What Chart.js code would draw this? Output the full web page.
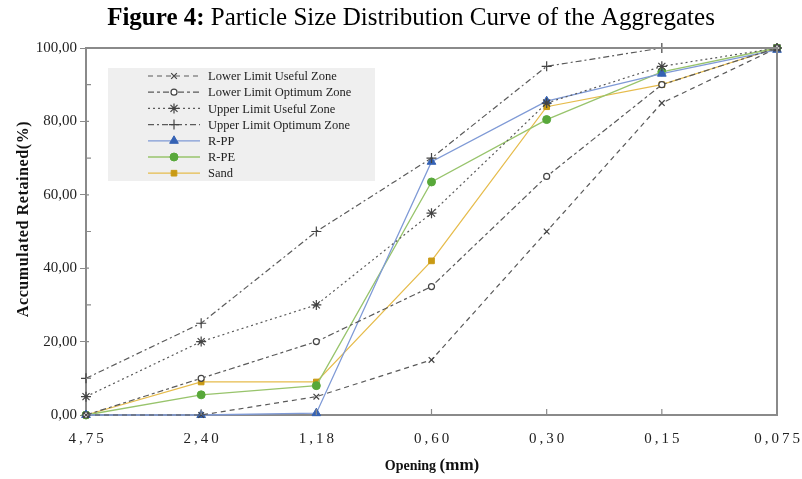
<!DOCTYPE html>
<html>
<head>
<meta charset="utf-8">
<script src="https://cdn.jsdelivr.net/npm/chart.js@4.4.1/dist/chart.umd.min.js"></script>
<style>
  html, body { margin: 0; padding: 0; background: #fff; }
  #wrap { width: 802px; height: 479px; position: relative; }
</style>
</head>
<body>
<div id="wrap"><canvas id="chart" width="802" height="479"></canvas></div>
<script>
// sieve openings (mm), shown as labels
const openings = ['4,75', '2,40', '1,18', '0,60', '0,30', '0,15', '0,075'];

// limit curves
const lowerUseful   = [0, 0, 5, 15, 50, 85, 100];
const lowerOptimum  = [0, 10, 20, 35, 65, 90, 100];
const upperUseful   = [5, 20, 30, 55, 85, 95, 100];
const upperOptimum  = [10, 25, 50, 70, 95, 100, 100];

// measured aggregates
const rPP  = [0, 0, 0.5, 69, 85.5, 93, 99.5];
const rPE  = [0, 5.5, 8, 63.5, 80.5, 93.5, 100];
const sand = [0, 9, 9, 42, 84, 90, 100];

const SERIF = '"Liberation Serif", "Times New Roman", serif';
const AXIS = '#8a8a8a';

function limitSet(label, data, dash, pointStyle, radius, bg) {
  return {
    label, data,
    borderColor: '#5a5a5a', borderWidth: 1.2, borderDash: dash,
    pointStyle, pointRadius: radius, pointBorderWidth: 1.2,
    pointBorderColor: '#444', pointBackgroundColor: bg || '#444',
    tension: 0, clip: false
  };
}
function sampleSet(label, data, line, mark, pointStyle, radius) {
  return {
    label, data,
    borderColor: line, borderWidth: 1.3,
    pointStyle, pointRadius: radius, pointBorderWidth: 1,
    pointBorderColor: mark, pointBackgroundColor: mark,
    tension: 0, clip: false
  };
}

const datasets = [
  limitSet('Lower Limit Useful Zone', lowerUseful, [5, 4], 'crossRot', 4),
  limitSet('Lower Limit Optimum Zone', lowerOptimum, [6, 3, 3, 3], 'circle', 3, '#fff'),
  limitSet('Upper Limit Useful Zone', upperUseful, [2, 3], 'star', 5),
  limitSet('Upper Limit Optimum Zone', upperOptimum, [6, 3, 2, 3], 'cross', 5),
  sampleSet('R-PP', rPP, '#7f9ad6', '#3562b4', 'triangle', 5),
  sampleSet('R-PE', rPE, '#98c46c', '#58a83a', 'circle', 4),
  sampleSet('Sand', sand, '#e6bc4c', '#c99a14', 'rect', 4)
];

// draws title, frame, inside ticks, x labels, axis titles and the legend box
const decor = {
  id: 'decor',
  afterDraw(chart) {
    const ctx = chart.ctx;
    const a = chart.chartArea;
    const xs = chart.scales.x, ys = chart.scales.y;
    ctx.save();

    // title
    ctx.fillStyle = '#000';
    ctx.textBaseline = 'alphabetic';
    const t1 = 'Figure 4:', t2 = ' Particle Size Distribution Curve of the Aggregates';
    ctx.font = 'bold 25px ' + SERIF;
    const w1 = ctx.measureText(t1).width;
    ctx.font = '25px ' + SERIF;
    const w2 = ctx.measureText(t2).width;
    let tx = 411 - (w1 + w2) / 2;
    ctx.font = 'bold 25px ' + SERIF;
    ctx.textAlign = 'left';
    ctx.fillText(t1, tx, 25);
    ctx.font = '25px ' + SERIF;
    ctx.fillText(t2, tx + w1, 25);

    // top and right frame
    ctx.strokeStyle = AXIS;
    ctx.lineWidth = 2;
    ctx.beginPath();
    ctx.moveTo(a.left, a.top); ctx.lineTo(a.right, a.top); ctx.lineTo(a.right, a.bottom);
    ctx.stroke();

    // inside ticks
    ctx.lineWidth = 1.2;
    ctx.beginPath();
    for (let v = 10; v < 100; v += 20) {
      const py = ys.getPixelForValue(v);
      ctx.moveTo(a.left, py); ctx.lineTo(a.left + 5, py);
    }
    for (let v = 20; v < 100; v += 20) {
      const py = ys.getPixelForValue(v);
      ctx.moveTo(a.left, py); ctx.lineTo(a.left + 3, py);
    }
    for (let i = 1; i < openings.length - 1; i++) {
      const px = xs.getPixelForTick(i);
      ctx.moveTo(px, a.bottom); ctx.lineTo(px, a.bottom - 6);
    }
    ctx.stroke();

    // x tick labels, letter-spaced
    ctx.fillStyle = '#222';
    ctx.font = '15px ' + SERIF;
    ctx.letterSpacing = '3px';
    ctx.textAlign = 'center';
    openings.forEach((lab, i) => {
      ctx.fillText(lab, xs.getPixelForTick(i) + 1.5, a.bottom + 28);
    });
    ctx.letterSpacing = '0px';

    // x axis title
    ctx.fillStyle = '#111';
    const o1 = 'Opening ', o2 = '(mm)';
    ctx.font = 'bold 14px ' + SERIF;
    const ow1 = ctx.measureText(o1).width;
    ctx.font = 'bold 17px ' + SERIF;
    const ow2 = ctx.measureText(o2).width;
    let ox = 432 - (ow1 + ow2) / 2;
    ctx.textAlign = 'left';
    ctx.font = 'bold 14px ' + SERIF;
    ctx.fillText(o1, ox, 470);
    ctx.font = 'bold 17px ' + SERIF;
    ctx.fillText(o2, ox + ow1, 470);

    // y axis title
    ctx.save();
    ctx.translate(28, 219);
    ctx.rotate(-Math.PI / 2);
    ctx.textAlign = 'center';
    ctx.font = 'bold 16px ' + SERIF;
    ctx.letterSpacing = '0.6px';
    ctx.fillText('Accumulated Retained(%)', 0, 0);
    ctx.restore();

    // legend
    const lx = 108, ly = 68, lw = 267, lh = 113;
    ctx.fillStyle = '#efefef';
    ctx.fillRect(lx, ly, lw, lh);
    chart.data.datasets.forEach((ds, i) => {
      const ry = ly + 8 + i * 16.2;
      ctx.save();
      ctx.strokeStyle = ds.borderColor;
      ctx.lineWidth = ds.borderWidth;
      ctx.setLineDash(ds.borderDash || []);
      ctx.beginPath();
      ctx.moveTo(lx + 40, ry); ctx.lineTo(lx + 92, ry);
      ctx.stroke();
      ctx.setLineDash([]);
      ctx.strokeStyle = ds.pointBorderColor;
      ctx.fillStyle = ds.pointBackgroundColor;
      ctx.lineWidth = ds.pointBorderWidth;
      Chart.helpers.drawPoint(ctx, {
        pointStyle: ds.pointStyle, radius: ds.pointRadius, rotation: 0,
        borderWidth: ds.pointBorderWidth
      }, lx + 66, ry);
      ctx.restore();
      ctx.fillStyle = '#222';
      ctx.font = '12.5px ' + SERIF;
      ctx.textAlign = 'left';
      ctx.textBaseline = 'middle';
      ctx.fillText(ds.label, lx + 100, ry + 1);
    });

    ctx.restore();
  }
};

new Chart(document.getElementById('chart'), {
  type: 'line',
  data: { labels: openings, datasets },
  options: {
    responsive: false,
    animation: false,
    events: [],
    layout: { padding: { top: 48, right: 25, left: 0, bottom: 0 } },
    plugins: { legend: { display: false }, tooltip: { enabled: false } },
    scales: {
      x: {
        type: 'category',
        offset: false,
        grid: { display: false },
        border: { color: AXIS, width: 2 },
        ticks: { display: false },
        afterFit: s => { s.height = 64; }
      },
      y: {
        min: 0, max: 100,
        grid: {
          drawOnChartArea: false, tickLength: 6,
          color: ctx => (ctx.tick && ctx.tick.value % 20 === 0) ? AXIS : 'rgba(0,0,0,0)'
        },
        border: { color: AXIS, width: 2 },
        ticks: {
          stepSize: 10, autoSkip: false, padding: 3,
          color: '#222',
          font: { family: SERIF, size: 15 },
          callback: v => (v % 20 === 0 ? v.toFixed(2).replace('.', ',') : '')
        },
        afterFit: s => { s.width = 86; }
      }
    }
  },
  plugins: [decor]
});
</script>
</body>
</html>
